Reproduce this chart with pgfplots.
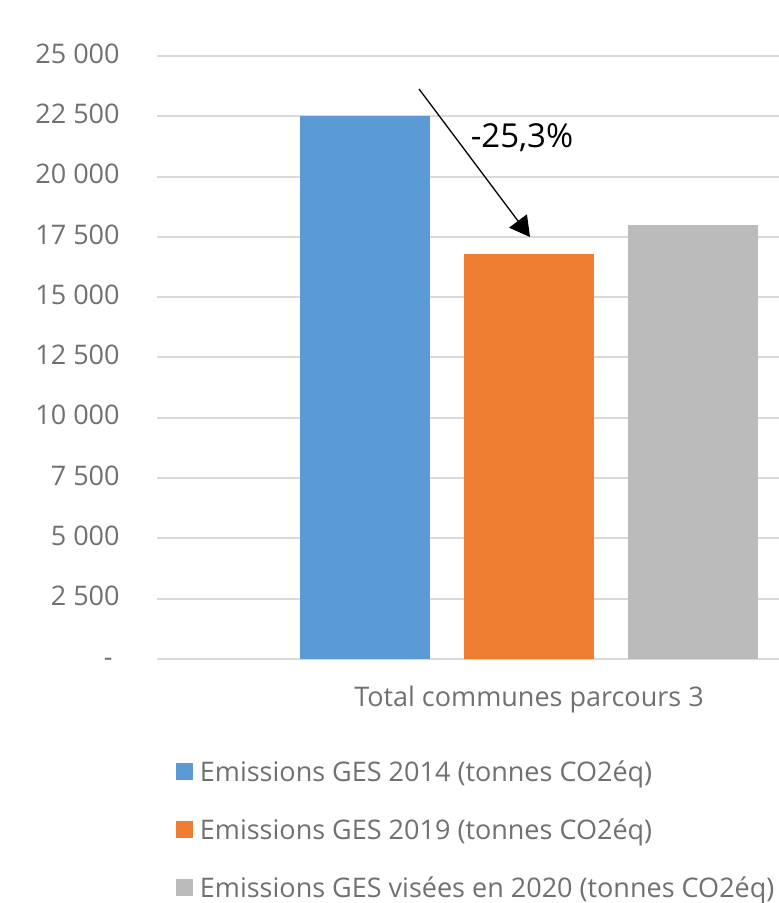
\documentclass[border=0pt]{standalone}
\usepackage{fontspec}
\setmainfont{Open Sans}
\usepackage{pgfplots}
\pgfplotsset{compat=1.18}
\usetikzlibrary{arrows.meta}
\definecolor{cBlue}{HTML}{5B9BD5}
\definecolor{cOrange}{HTML}{ED7D31}
\definecolor{cGray}{HTML}{BBBBBB}
\definecolor{cText}{HTML}{707070}
\definecolor{cGrid}{HTML}{D9D9D9}
\begin{document}
\begin{tikzpicture}
\useasboundingbox (0,0) rectangle (389.5pt,451.5pt);
\begin{axis}[
  at={(78.5pt,122pt)}, anchor=south west,
  scale only axis, width=311pt, height=301.5pt,
  xmin=157, xmax=779, ymin=0, ymax=25000,
  scaled y ticks=false,
  ybar, bar width=130, bar shift=0pt,
  axis line style={draw=none},
  major tick length=0pt,
  ymajorgrids, grid style={cGrid, line width=1pt},
  ytick={0,2500,5000,7500,10000,12500,15000,17500,20000,22500,25000},
  yticklabels={{-\hspace*{3.5pt}},{2 500},{5 000},{7 500},{10 000},{12 500},{15 000},{17 500},{20 000},{22 500},{25 000}},
  yticklabel style={anchor=east, inner sep=0pt, xshift=-18.5pt, text height=0.72em, text depth=0pt, font=\fontsize{13.5}{16}\selectfont, text=cText},
  xtick={529}, xticklabels={Total communes parcours 3},
  xticklabel style={anchor=base, inner sep=0pt, yshift=-23.8pt, font=\fontsize{13.5}{16}\selectfont, text=cText},
  legend style={at={(axis cs:176,-4146)}, anchor=north west, draw=none, fill=none, inner sep=0pt, row sep=15pt, column sep=3.25pt,
    nodes={inner sep=0pt, text height=11pt, text depth=3pt}, font=\fontsize{13.5}{16}\selectfont, text=cText},
  legend cell align=left,
  legend image code/.code={\fill[#1] (0pt,-3.45pt) rectangle (8.5pt,5.05pt);},
]
\addplot[fill=cBlue, draw=none] coordinates {(365,22500)};
\addlegendentry{Emissions GES 2014 (tonnes CO2éq)}
\addplot[fill=cOrange, draw=none] coordinates {(529,16800)};
\addlegendentry{Emissions GES 2019 (tonnes CO2éq)}
\addplot[fill=cGray, draw=none] coordinates {(693,18000)};
\addlegendentry{Emissions GES visées en 2020 (tonnes CO2éq)}
\draw[-{Triangle[length=10pt,width=11pt]}, line width=0.65pt, black] (axis cs:419,23632) -- (axis cs:530,17496);
\node[anchor=base, inner sep=0pt, font=\fontsize{16.5}{19}\selectfont, text=black] at (axis cs:522,21186) {-25,3\%};
\end{axis}
\end{tikzpicture}
\end{document}
